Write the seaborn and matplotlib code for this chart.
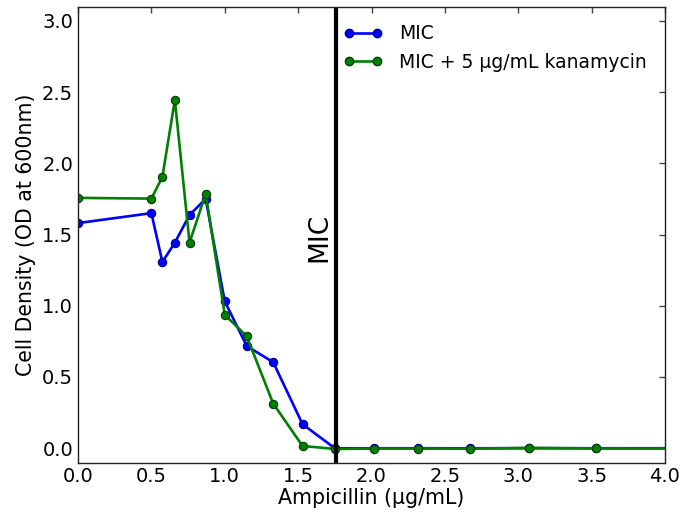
import matplotlib
matplotlib.use("Agg")
import matplotlib.pyplot as plt
import seaborn as sns
import pandas as pd
from matplotlib.lines import Line2D

ampicillin = [0.0, 0.50, 0.575, 0.66, 0.76, 0.87, 1.0, 1.15, 1.33, 1.53,
              1.75, 2.02, 2.32, 2.67, 3.07, 3.53, 4.06]
mic = [1.58, 1.65, 1.307, 1.443, 1.637, 1.75, 1.031, 0.717, 0.604, 0.169,
       0.0, 0.0, 0.0, 0.0, 0.0, 0.0, 0.0]
mic_kan = [1.757, 1.752, 1.904, 2.445, 1.443, 1.785, 0.937, 0.785, 0.314, 0.016,
           -0.005, -0.002, -0.002, -0.003, 0.003, -0.001, -0.002]
series_names = ["MIC", "MIC + 5 \u00b5g/mL kanamycin"]
mic_value = 1.755
x_ticks = [0.0, 0.5, 1.0, 1.5, 2.0, 2.5, 3.0, 3.5, 4.0]
y_ticks = [0.0, 0.5, 1.0, 1.5, 2.0, 2.5, 3.0]

sns.set_style("white")
plt.rcParams["font.family"] = ["DejaVu Sans"]
plt.rcParams["text.color"] = "black"
plt.rcParams["axes.labelcolor"] = "black"
plt.rcParams["xtick.color"] = "black"
plt.rcParams["ytick.color"] = "black"
plt.rcParams["xtick.direction"] = "in"
plt.rcParams["ytick.direction"] = "in"

df = pd.DataFrame({
    "x": ampicillin * 2,
    "y": mic + mic_kan,
    "series": [series_names[0]] * len(ampicillin) + [series_names[1]] * len(ampicillin),
})

fig = plt.figure(figsize=(6.84, 5.12), dpi=100)
ax = fig.add_axes([78 / 684, 1 - 462.5 / 512, (665 - 78) / 684, (462.5 - 6.5) / 512])

sns.lineplot(data=df, x="x", y="y", hue="series", palette=["#0000ff", "#008000"],
             marker="o", markersize=6, markeredgewidth=0.8,
             linewidth=1.9, ax=ax, sort=False, legend=False)
for line, ec in zip(ax.lines, ["#00008b", "#0a3a0a"]):
    line.set_markeredgecolor(ec)

ax.axvline(mic_value, color="black", linewidth=3)
ax.text(mic_value - 0.025, 1.48, "MIC", rotation=90, fontsize=19, ha="right", va="center")

ax.set_xlim(0, 4.0)
ax.set_ylim(-0.1, 3.1)
ax.set_xticks(x_ticks)
ax.set_yticks(y_ticks)
ax.set_xticklabels([f"{t:.1f}" for t in x_ticks], fontsize=14)
ax.set_yticklabels([f"{t:.1f}" for t in y_ticks], fontsize=14)
ax.tick_params(axis="both", which="both", top=True, right=True, length=4, width=1,
               color="#444444", pad=3.5)
for s in ax.spines.values():
    s.set_color("#222222")
    s.set_linewidth(1)

ax.set_xlabel("Ampicillin (\u00b5g/mL)", fontsize=14.8, labelpad=1)
ax.set_ylabel("Cell Density (OD at 600nm)", fontsize=14.8, labelpad=4)

handles = [Line2D([0], [0], color="#0000ff", marker="o", markersize=6, linewidth=1.9,
                  markeredgecolor="#00008b"),
           Line2D([0], [0], color="#008000", marker="o", markersize=6, linewidth=1.9,
                  markeredgecolor="#0a3a0a")]
ax.legend(handles, series_names, loc="upper right", frameon=False, numpoints=2,
          fontsize=13.5, handlelength=2.1, handletextpad=0.9, borderaxespad=0.55,
          labelspacing=0.5)

fig.savefig("out.png", dpi=100)
